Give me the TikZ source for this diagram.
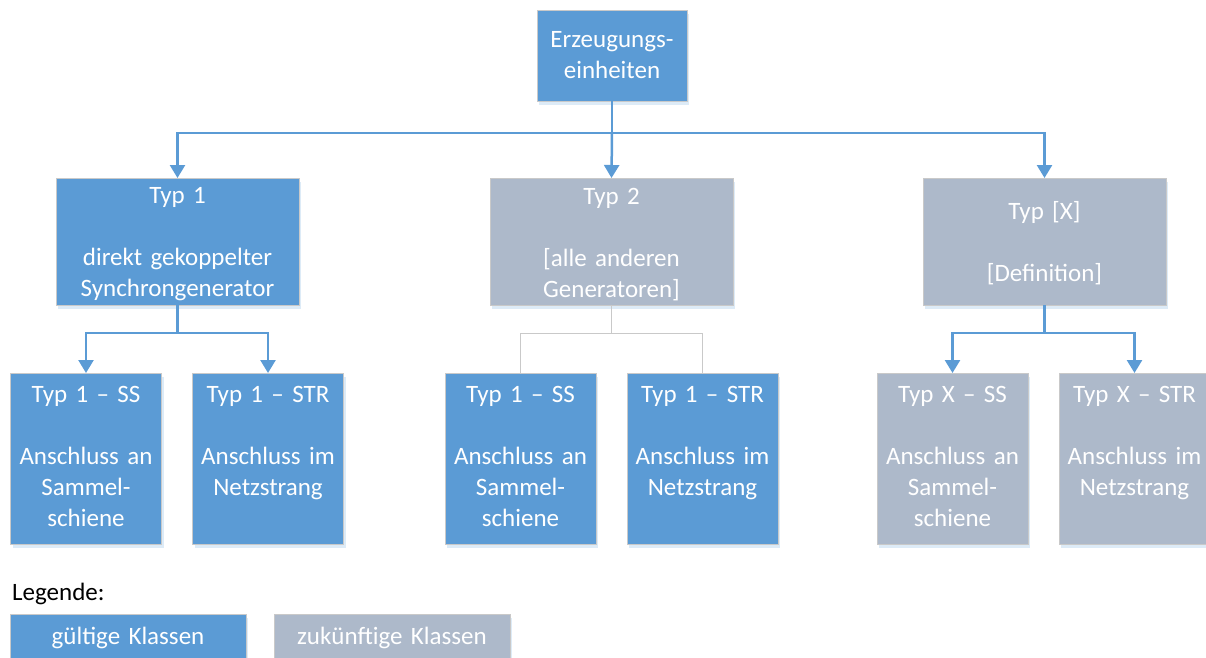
\documentclass[tikz,border=0pt]{standalone}
\usepackage{fontspec}
\setmainfont{Carlito}
\usetikzlibrary{positioning}
\usetikzlibrary{arrows.meta}
\usetikzlibrary{shadows}
\definecolor{validblue}{HTML}{5B9BD5}
\definecolor{futuregray}{HTML}{ADB9CA}
\definecolor{edgegray}{HTML}{C9C9C9}
\definecolor{shadeblue}{HTML}{DDEBF7}

\begin{document}
\begin{tikzpicture}[x=1pt, y=-1pt,%
	base/.style={draw=edgegray, line width=0.8pt, align=center, inner sep=0pt,
		outer sep=0pt, text=white, font=\fontsize{25}{31}\selectfont,
		drop shadow={shadow xshift=2pt, shadow yshift=-4pt, fill=shadeblue, opacity=1}},
	valid/.style={base, fill=validblue},
	future/.style={base, fill=futuregray},
	topbox/.style={minimum width=150pt, minimum height=91pt, text width=150pt},
	midbox/.style={minimum width=243pt, minimum height=127pt, text width=243pt},
	leafbox/.style={minimum width=151pt, minimum height=171pt, text width=151pt},
	keybox/.style={minimum width=236pt, minimum height=48pt, text width=236pt},
	arrow/.style={draw=validblue, line width=2.5pt, arrows={-Triangle[width=15pt, length=13pt]}},
	thinline/.style={draw=edgegray, line width=1pt}%
	]
	\clip (0,0) rectangle (1206,657);
	%
	% Nodes
	%
	\node[valid, topbox] (UNITS) at (612, 55.5) {Erzeugungs-\\ einheiten};
	\node[valid, midbox] (TYP1) at (177.5, 241.5) {\strut Typ 1\\ \strut\\ direkt gekoppelter\\ Synchrongenerator};
	\node[future, midbox, right=191pt of TYP1] (TYP2) {\strut Typ 2\\ \strut\\ {[alle anderen}\\ Generatoren]};
	\node[future, midbox, right=190pt of TYP2] (TYPX) {\strut Typ [X]\\ \strut\\ {[Definition]}};
	\node[valid, leafbox] (T1SS) at (86, 458.5) {\strut Typ 1 -- SS\\ \strut\\ Anschluss an\\ Sammel-\\ schiene\strut};
	\node[valid, leafbox, right=31pt of T1SS] (T1STR) {\strut Typ 1 -- STR\\ \strut\\ Anschluss im\\ Netzstrang\\ \strut};
	\node[valid, leafbox] (T2SS) at (520.5, 458.5) {\strut Typ 1 -- SS\\ \strut\\ Anschluss an\\ Sammel-\\ schiene\strut};
	\node[valid, leafbox, right=31pt of T2SS] (T2STR) {\strut Typ 1 -- STR\\ \strut\\ Anschluss im\\ Netzstrang\\ \strut};
	\node[future, leafbox] (TXSS) at (952.5, 458.5) {\strut Typ X -- SS\\ \strut\\ Anschluss an\\ Sammel-\\ schiene\strut};
	\node[future, leafbox, right=31pt of TXSS] (TXSTR) {\strut Typ X -- STR\\ \strut\\ Anschluss im\\ Netzstrang\\ \strut};
	%
	% Legend
	%
	\node[anchor=base west, font=\fontsize{25}{31}\selectfont, inner sep=0pt] (LEGEND) at (12, 600) {Legende:};
	\node[valid, keybox] (KEYVALID) at (128, 638) {gültige Klassen};
	\node[future, keybox, right=28pt of KEYVALID] (KEYFUTURE) {zukünftige Klassen};
	%
	% Connectors
	%
	\coordinate[below=32pt of UNITS.south] (BUS0);
	\coordinate[below=28pt of TYP1.south] (BUS1);
	\coordinate[below=28pt of TYP2.south] (BUS2);
	\coordinate[below=28pt of TYPX.south] (BUSX);
	\path[arrow] (UNITS.south) -- (BUS0) -| (TYP1.north);
	\path[arrow] (BUS0) -| (TYPX.north);
	\path[arrow] (BUS0) -- (TYP2.north);
	\path[arrow] (TYP1.south) -- (BUS1) -| (T1SS.north);
	\path[arrow] (BUS1) -| (T1STR.north);
	\path[thinline] (TYP2.south) -- (BUS2) -| (T2SS.north);
	\path[thinline] (BUS2) -| (T2STR.north);
	\path[arrow] (TYPX.south) -- (BUSX) -| (TXSS.north);
	\path[arrow] (BUSX) -| (TXSTR.north);
\end{tikzpicture}
\end{document}
